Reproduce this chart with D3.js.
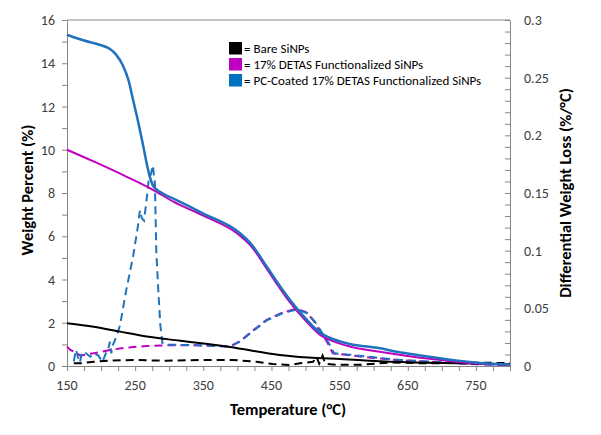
<!DOCTYPE html>
<html>
<head>
<meta charset="utf-8">
<script src="https://cdn.jsdelivr.net/npm/d3@7"></script>
<style>
body{margin:0;background:#fff;}
svg{display:block;font-family:Calibri,"Carlito","Open Sans","Liberation Sans",sans-serif;}
</style>
</head>
<body>
<svg id="chart" width="601" height="435"></svg>
<script>
// ---- data ----
const xTicks = [150,250,350,450,550,650,750];
const yLeftTicks = [0,2,4,6,8,10,12,14,16];
const yRightTicks = [0,0.05,0.1,0.15,0.2,0.25,0.3];
const legendLabels = ["= Bare SiNPs","= 17% DETAS Functionalized SiNPs","= PC-Coated 17% DETAS Functionalized SiNPs"];
const seriesColors = ["#000000","#c000c0","#1f72bd"];

// Weight percent (left axis) [temperature, %]
const bareWeight = [[150,1.98],[189,1.82],[228,1.59],[267,1.36],[316,1.17],[389,0.88],[462,0.51],[516,0.37],[526,0.36],[609,0.22],[680,0.15],[755,0.11],[800,0.08]];
const detasWeight = [[150,10.0],[189,9.46],[237,8.76],[276,8.15],[306,7.6],[350,6.95],[403,6.05],[420,5.55],[443,4.5],[460,3.7],[477,2.95],[500,2.1],[521,1.45],[540,1.15],[565,0.9],[609,0.66],[682,0.33],[720,0.2],[760,0.1],[800,0.05]];
const pcWeight = [[150,15.32],[175,15.05],[200,14.83],[212,14.68],[222,14.4],[232,13.9],[240,13.24],[247,12.3],[255,11.2],[262,10.15],[268,9.2],[272,8.7],[276,8.35],[280,8.2],[292,7.95],[310,7.68],[350,7.05],[403,6.16],[420,5.65],[443,4.6],[460,3.8],[477,3.06],[500,2.2],[521,1.55],[540,1.25],[565,1.02],[609,0.82],[640,0.62],[682,0.43],[720,0.26],[760,0.13],[800,0.06]];

// Differential weight loss (right axis) [temperature, %/°C]
const bareDiff = [[160,0.0023],[170,0.0023],[189,0.0037],[213,0.0046],[247,0.0052],[296,0.0046],[350,0.0052],[393,0.0052],[428,0.0037],[452,0.0017],[477,0.0009],[492,0.0023],[511,0.0037],[516,0.008],[520,0.002],[525,0.009],[529,0.002],[545,0.001],[580,0.001],[623,0.003],[682,0.0023],[740,0.003],[800,0.0025]];
const detasDiff = [[150,0.0168],[155,0.014],[160,0.0124],[170,0.009],[180,0.0102],[189,0.011],[213,0.0139],[237,0.016],[267,0.0173],[301,0.018],[340,0.018],[370,0.0175],[389,0.0168],[405,0.022],[418,0.0286],[443,0.040],[465,0.046],[485,0.0495],[500,0.047],[511,0.040],[520,0.031],[531,0.0215],[540,0.011],[565,0.0092],[600,0.007],[638,0.005],[700,0.003],[750,0.0015],[800,0.0008]];
const pcDiff = [[160,0.004],[163,0.014],[166,0.008],[169,0.003],[172,0.012],[178,0.011],[184,0.008],[190,0.011],[196,0.009],[202,0.0035],[207,0.011],[211,0.016],[213,0.021],[215,0.011],[217,0.018],[220,0.022],[225,0.030],[228,0.036],[237,0.066],[247,0.095],[254,0.121],[257,0.135],[260,0.128],[263,0.126],[266,0.140],[270,0.162],[273,0.166],[276,0.174],[279,0.158],[281,0.100],[284,0.065],[287,0.035],[290,0.020],[300,0.0185],[340,0.018],[370,0.0172],[389,0.0168],[405,0.0215],[418,0.028],[443,0.0395],[465,0.0455],[487,0.049],[502,0.046],[513,0.039],[523,0.030],[534,0.020],[542,0.011],[565,0.0098],[600,0.0075],[640,0.0052],[700,0.0032],[750,0.0018],[800,0.001]];

// ---- layout ----
const svg = d3.select("#chart");
const L = 67, R = 510, T = 20, B = 366;
const x = d3.scaleLinear().domain([150,800]).range([L,R]);
const yL = d3.scaleLinear().domain([0,16]).range([B,T]);
const yR = d3.scaleLinear().domain([0,0.3]).range([B,T]);
const axisColor = "#868686", labelColor = "#404040";

// frame
svg.append("line").attr("x1",L).attr("x2",R).attr("y1",T).attr("y2",T).attr("stroke",axisColor).attr("stroke-width",1);

// bottom axis
const gx = svg.append("g").attr("transform",`translate(0,${B})`)
  .call(d3.axisBottom(x).tickValues(d3.range(150,801,25)).tickSize(5).tickFormat(""));
gx.selectAll("line,path").attr("stroke",axisColor);
svg.append("g").selectAll("text").data(xTicks).join("text")
  .attr("x",d=>x(d)).attr("y",B+24).attr("text-anchor","middle")
  .attr("font-size",14).attr("fill",labelColor).text(d=>d);

// left axis
const gl = svg.append("g").attr("transform",`translate(${L},0)`)
  .call(d3.axisLeft(yL).tickValues(d3.range(0,17,1)).tickSize(5).tickFormat("").tickSizeOuter(0));
gl.selectAll("line,path").attr("stroke",axisColor);
svg.append("g").selectAll("text").data(yLeftTicks).join("text")
  .attr("x",L-12).attr("y",d=>yL(d)+5).attr("text-anchor","end")
  .attr("font-size",14).attr("fill",labelColor).text(d=>d);

// right axis
const gr = svg.append("g").attr("transform",`translate(${R},0)`)
  .call(d3.axisLeft(yR).tickValues(d3.range(0,0.3001,0.01)).tickSize(5).tickFormat("").tickSizeOuter(0));
gr.selectAll("line,path").attr("stroke",axisColor);
svg.append("g").selectAll("text").data(yRightTicks).join("text")
  .attr("x",R+14).attr("y",d=>yR(d)+5).attr("text-anchor","start")
  .attr("font-size",14).attr("fill",labelColor).text(d=>d);

// axis titles
svg.append("text").attr("x",288).attr("y",415).attr("text-anchor","middle")
  .attr("font-size",16.5).attr("font-weight","bold").attr("fill","#000").text("Temperature (°C)");
svg.append("text").attr("transform","translate(33,190) rotate(-90)").attr("text-anchor","middle")
  .attr("font-size",16.5).attr("font-weight","bold").attr("fill","#000").text("Weight Percent (%)");
svg.append("text").attr("transform","translate(571,193) rotate(-90)").attr("text-anchor","middle")
  .attr("font-size",16.5).attr("font-weight","bold").attr("fill","#000").text("Differential Weight Loss (%/°C)");

// lines
const lineL = d3.line().x(d=>x(d[0])).y(d=>yL(d[1])).curve(d3.curveMonotoneX);
const lineR = d3.line().x(d=>x(d[0])).y(d=>yR(d[1]));
const dashed = [bareDiff, detasDiff, pcDiff];
const solid = [bareWeight, detasWeight, pcWeight];
dashed.forEach((s,i)=>{
  svg.append("path").datum(s).attr("d",lineR).attr("fill","none")
    .attr("stroke",seriesColors[i]).attr("stroke-width",2).attr("stroke-dasharray","8,5");
});
solid.forEach((s,i)=>{
  svg.append("path").datum(s).attr("d",lineL).attr("fill","none")
    .attr("stroke",seriesColors[i]).attr("stroke-width",i===2?2.5:2);
});

// legend
const lg = svg.append("g");
legendLabels.forEach((t,i)=>{
  const yy = 48 + i*16;
  lg.append("rect").attr("x",229).attr("y",yy-6).attr("width",13).attr("height",12.5)
    .attr("fill",i===2?"#0070c0":seriesColors[i]);
  lg.append("text").attr("x",244).attr("y",yy+4.5).attr("font-size",13).attr("fill","#000").text(t);
});
</script>
</body>
</html>
